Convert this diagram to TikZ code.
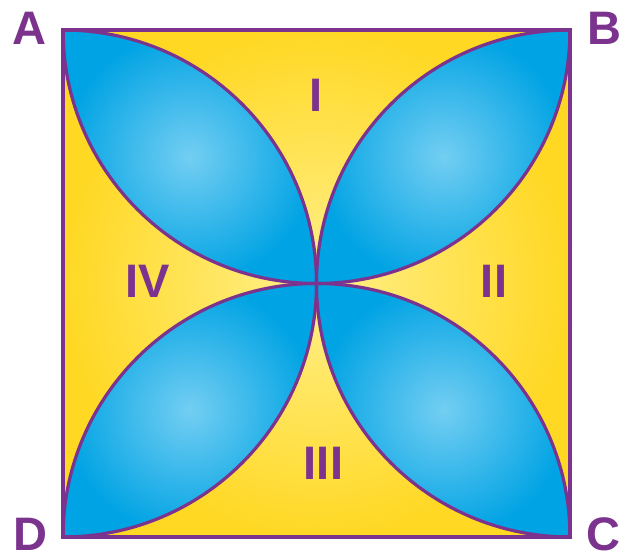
\documentclass[tikz,border=0pt]{standalone}
\usepackage{fontspec}
\setmainfont{Liberation Sans}
\definecolor{pur}{RGB}{123,51,142}
\definecolor{yout}{RGB}{255,216,36}
\definecolor{yin}{RGB}{255,240,140}
\definecolor{bout}{RGB}{0,163,228}
\definecolor{bin}{RGB}{115,206,242}
\tikzset{
  lbl/.style={inner sep=0pt, text=pur, font=\fontsize{47}{47}\selectfont\bfseries},
  petal/.style={inner color=bin, outer color=bout},
  edge/.style={draw=pur, line width=3.2pt, line join=round},
}
\begin{document}
\begin{tikzpicture}[x=1pt,y=1pt]
\useasboundingbox (0,0) rectangle (622,557);
\def\r{253.5}
\coordinate (A) at (63,527);
\coordinate (B) at (570,527);
\coordinate (C) at (570,20);
\coordinate (D) at (63,20);
\coordinate (O) at (316.5,273.5);
% background
\shade[inner color=yin, outer color=yout] (D) rectangle (B);
% petals
\shade[petal] (A) arc[start angle=180,end angle=270,radius=\r] arc[start angle=0,end angle=90,radius=\r] -- cycle;
\shade[petal] (B) arc[start angle=90,end angle=180,radius=\r] arc[start angle=270,end angle=360,radius=\r] -- cycle;
\shade[petal] (C) arc[start angle=0,end angle=90,radius=\r] arc[start angle=180,end angle=270,radius=\r] -- cycle;
\shade[petal] (D) arc[start angle=270,end angle=360,radius=\r] arc[start angle=90,end angle=180,radius=\r] -- cycle;
% outlines
\path[edge] (A) arc[start angle=180,end angle=270,radius=\r] arc[start angle=0,end angle=90,radius=\r] -- cycle;
\path[edge] (B) arc[start angle=90,end angle=180,radius=\r] arc[start angle=270,end angle=360,radius=\r] -- cycle;
\path[edge] (C) arc[start angle=0,end angle=90,radius=\r] arc[start angle=180,end angle=270,radius=\r] -- cycle;
\path[edge] (D) arc[start angle=270,end angle=360,radius=\r] arc[start angle=90,end angle=180,radius=\r] -- cycle;
\draw[pur, line width=4.5pt, line join=miter] (A) -- (B) -- (C) -- (D) -- cycle;
% labels
\node[lbl] (lA) at (29,528.5) {A};
\node[lbl] (lB) at (604,529) {B};
\node[lbl] (lC) at (603,23) {C};
\node[lbl] (lD) at (30,23) {D};
\node[lbl] (r1) at (316,461.5) {I};
\node[lbl] (r2) at (494,275.5) {II};
\node[lbl] (r3) at (323.5,93.5) {III};
\node[lbl] (r4) at (148,276) {IV};
\end{tikzpicture}
\end{document}
